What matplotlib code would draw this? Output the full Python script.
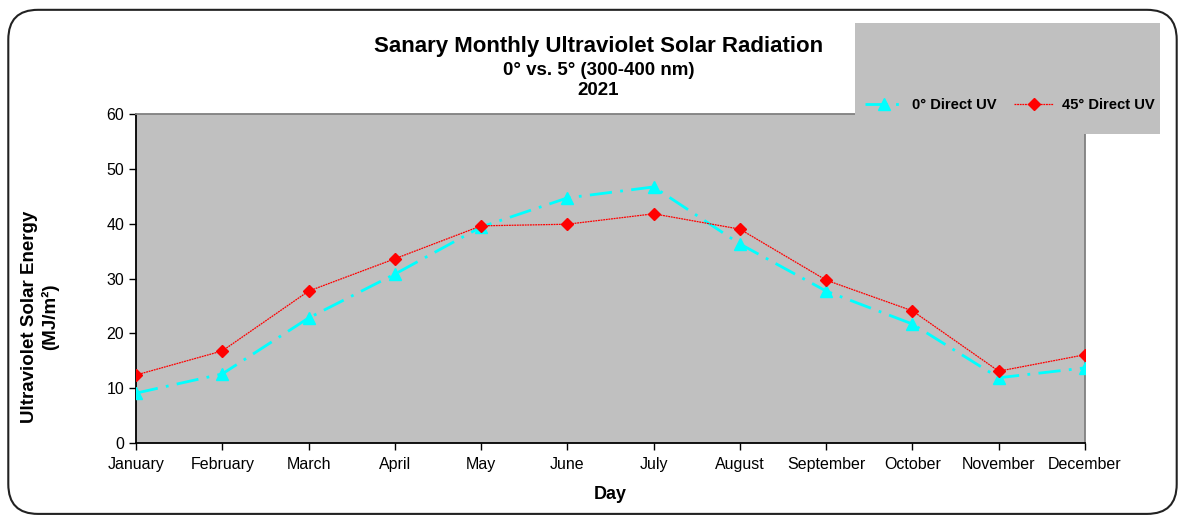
import matplotlib.pyplot as plt
from matplotlib.patches import FancyBboxPatch, Rectangle

plt.rcParams['font.family'] = ['Liberation Sans', 'DejaVu Sans']

months = ['January', 'February', 'March', 'April', 'May', 'June', 'July',
          'August', 'September', 'October', 'November', 'December']
uv_0 = [9.1, 12.6, 22.8, 30.8, 39.4, 44.7, 46.7, 36.3, 27.7, 21.7, 11.9, 13.7]
uv_45 = [12.4, 16.8, 27.7, 33.6, 39.6, 39.9, 41.8, 39.0, 29.7, 24.1, 13.1, 16.1]
yticks = [0, 10, 20, 30, 40, 50, 60]

fig = plt.figure(figsize=(11.85, 5.17), dpi=100)

# rounded outer frame
frame = FancyBboxPatch((0.007, 0.006), 0.986, 0.975, boxstyle='round,pad=0,rounding_size=0.025',
                       transform=fig.transFigure, facecolor='none', edgecolor='#222222',
                       linewidth=1.5, zorder=0, mutation_aspect=2.3)
fig.patches.append(frame)

ax = fig.add_axes([0.1148, 0.1431, 0.8008, 0.6364])
ax.set_facecolor('#C0C0C0')
x = list(range(len(months)))
ax.plot(x, uv_0, color='cyan', linestyle=(0, (8, 3, 1, 3)), linewidth=2, marker='^',
        markersize=8.5, label='0° Direct UV', zorder=3)
ax.plot(x, uv_45, color='red', linestyle=(0, (1.5, 0.6)), linewidth=0.9, marker='D',
        markersize=6.5, label='45° Direct UV', zorder=4)

ax.set_xlim(0, len(months) - 1)
ax.set_ylim(0, 60)
ax.set_yticks(yticks)
ax.set_xticks(x)
ax.set_xticklabels(months)
ax.tick_params(axis='both', labelsize=11.5, direction='out', length=5, width=1, colors='black')
ax.tick_params(axis='x', pad=5)
for s in ['left', 'bottom']:
    ax.spines[s].set_color('black')
    ax.spines[s].set_linewidth(1.3)
for s in ['top', 'right']:
    ax.spines[s].set_color('#808080')
    ax.spines[s].set_linewidth(1.3)

fig.text(0.515, 0.043, 'Day', ha='center', va='center', fontsize=13, fontweight='bold')
fig.text(0.0335, 0.387, 'Ultraviolet Solar Energy\n(MJ/m²)', ha='center', va='center',
         rotation=90, multialignment='center', fontsize=13.5, fontweight='bold')

fig.text(0.505, 0.910, 'Sanary Monthly Ultraviolet Solar Radiation', ha='center', va='center',
         fontsize=16, fontweight='bold')
fig.text(0.505, 0.864, '0° vs. 5° (300-400 nm)', ha='center', va='center',
         fontsize=13.5, fontweight='bold')
fig.text(0.505, 0.825, '2021', ha='center', va='center', fontsize=13.5, fontweight='bold')

# legend box
fig.patches.append(Rectangle((0.7215, 0.7408), 0.2574, 0.2147, transform=fig.transFigure,
                             facecolor='#C0C0C0', edgecolor='none', zorder=5))
leg = fig.legend(loc='center', bbox_to_anchor=(0.852, 0.797), ncol=2, frameon=False,
                 prop={'weight': 'bold', 'size': 10.6}, handlelength=2.6, columnspacing=1.2,
                 handletextpad=0.6)
leg.set_zorder(6)

plt.savefig('out.png', dpi=100)
